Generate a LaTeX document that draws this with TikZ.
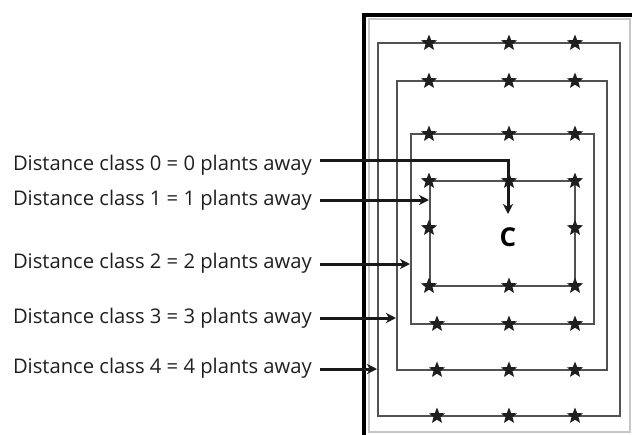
\documentclass[tikz,border=0pt]{standalone}
\usepackage{fontspec}
\setmainfont{Open Sans}
\usetikzlibrary{shapes.geometric,arrows.meta}
\tikzset{
  lbl/.style={anchor=base east, inner sep=0pt, text=black!88, font=\fontsize{20.2}{23}\selectfont},
  ring/.style={draw=black!68, line width=2.6pt},
  plant/.style={star, star points=5, star point ratio=2.3, fill=black!88, draw=none, minimum size=17pt, inner sep=0pt},
  pointer/.style={draw=black!90, line width=3pt, -{Stealth[length=10pt,width=10pt,inset=3pt]}},
}
\begin{document}
\begin{tikzpicture}[x=1pt,y=-1pt]
\useasboundingbox (0,0) rectangle (632,434);
% frames
\draw[black!22, line width=1.2pt] (369,19) rectangle (630,432);
\begin{scope}
\clip (0,0) rectangle (632,434);
\draw[black, line width=4.5pt] (640,15) -- (364,15) -- (364,440);
\end{scope}
% rings
\draw[ring] (378,43) rectangle (620,416);
\draw[ring] (397,81) rectangle (607,370);
\draw[ring] (411,134) rectangle (594,324);
\draw[ring] (430,181) rectangle (575,286);
% plants
\foreach \y in {43,81,134,181,286} {
  \foreach \x in {429,509,575} { \node[plant] at (\x,\y) {}; }
}
\foreach \y in {324,370,416} {
  \foreach \x in {437,509,575} { \node[plant] at (\x,\y) {}; }
}
\node[plant] at (429,228) {};
\node[plant] at (575,228) {};
% centre
\node[font=\fontsize{26}{30}\selectfont\bfseries, text=black, inner sep=0pt] (c) at (508,237) {C};
% labels
\node[lbl] (l0) at (312,170) {Distance class 0 = 0 plants away};
\node[lbl] (l1) at (312,205) {Distance class 1 = 1 plants away};
\node[lbl] (l2) at (312,268) {Distance class 2 = 2 plants away};
\node[lbl] (l3) at (312,323) {Distance class 3 = 3 plants away};
\node[lbl] (l4) at (312,373) {Distance class 4 = 4 plants away};
% arrow ends
\coordinate (s0) at (320,160);
\coordinate (s1) at (320,200);
\coordinate (s2) at (320,264);
\coordinate (s3) at (320,318);
\coordinate (s4) at (320,369);
\coordinate (t0) at (508,214);
\coordinate (t1) at (429,200);
\coordinate (t2) at (410,264);
\coordinate (t3) at (396,318);
\coordinate (t4) at (377,369);
\draw[pointer] (s0) -| (t0);
\draw[pointer] (s1) -- (t1);
\draw[pointer] (s2) -- (t2);
\draw[pointer] (s3) -- (t3);
\draw[pointer] (s4) -- (t4);
\end{tikzpicture}
\end{document}
